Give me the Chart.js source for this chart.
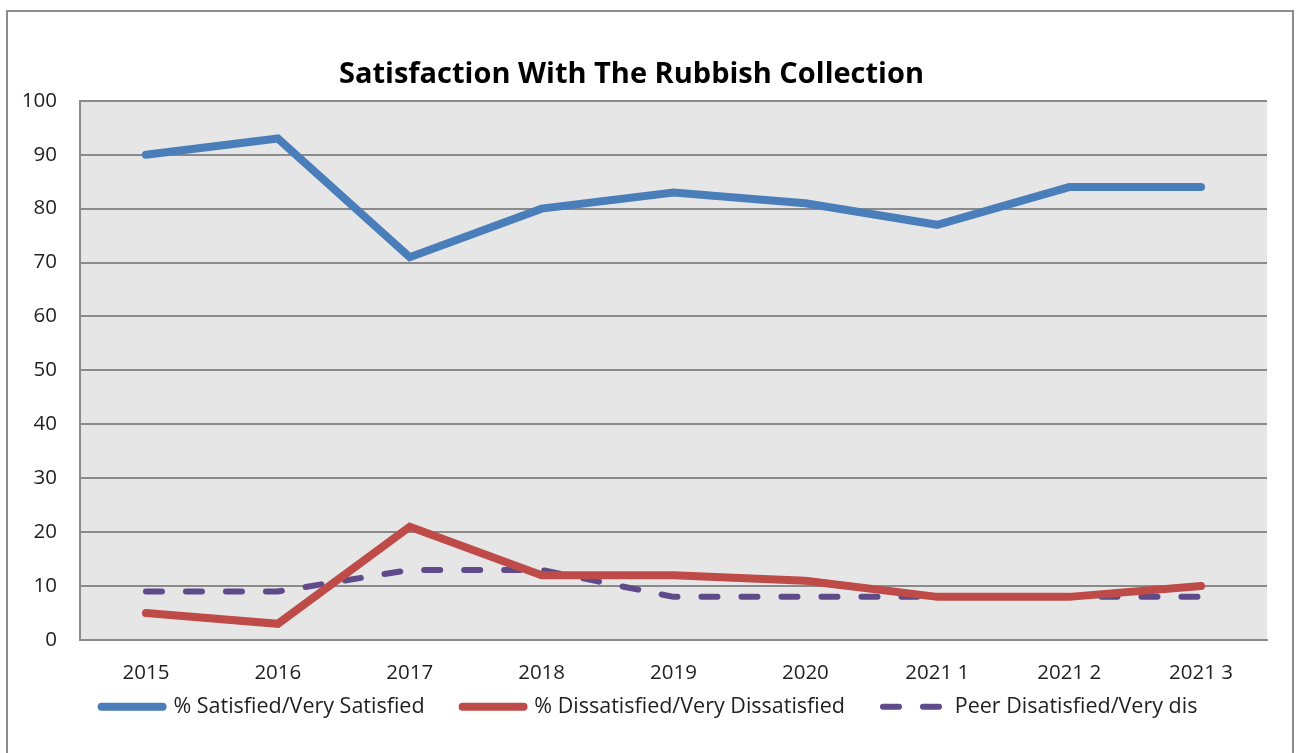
<!DOCTYPE html>
<html>
<head>
<meta charset="utf-8">
<script src="https://cdn.jsdelivr.net/npm/chart.js@4/dist/chart.umd.min.js"></script>
<style>
  html, body { margin: 0; padding: 0; background: #ffffff; }
  #frame { position: absolute; left: 6px; top: 10px; width: 1288px; height: 760px; border: 2px solid #8c8c8c; box-sizing: border-box; }
  #wrap { position: absolute; left: 0; top: 0; width: 1301px; height: 753px; }
</style>
</head>
<body>
<div id="frame"></div>
<div id="wrap"><canvas id="c" width="1301" height="753"></canvas></div>
<script>
const categories = ["2015", "2016", "2017", "2018", "2019", "2020", "2021 1", "2021 2", "2021 3"];
const satisfied = [90, 93, 71, 80, 83, 81, 77, 84, 84];
const dissatisfied = [5, 3, 21, 12, 12, 11, 8, 8, 10];
const peerDissatisfied = [9, 9, 13, 13, 8, 8, 8, 8, 8];
const yTicks = [0, 10, 20, 30, 40, 50, 60, 70, 80, 90, 100];

const FONT = "'Open Sans', 'DejaVu Sans', sans-serif";
const GRID = '#8a8a8a';
const TEXT = '#1f1f1f';
const LEGEND_PAD = 38;
const LEGEND_H = 40;

const plotBg = {
  id: 'plotBg',
  beforeDraw(chart) {
    const {ctx, chartArea: a} = chart;
    ctx.save();
    ctx.fillStyle = '#e6e6e6';
    ctx.fillRect(a.left, a.top, a.right - a.left, a.bottom - a.top);
    ctx.restore();
  }
};

// compact legend vertically while keeping wide horizontal spacing; nudge title/legend
const layoutTweaks = {
  id: 'layoutTweaks',
  beforeLayout(chart) {
    const lg = chart.legend;
    if (lg && !lg._compactPatched) {
      const orig = lg.fit;
      lg.fit = function () { orig.call(this); this.height = LEGEND_H; };
      lg._compactPatched = true;
    }
  },
  afterLayout(chart) {
    const lg = chart.legend;
    if (lg) {
      lg.top -= LEGEND_PAD - 10;
      lg.left += 6; lg.right += 6;
    }
    const t = chart.titleBlock;
    if (t) { t.left -= 12; t.right -= 12; }
  }
};

new Chart(document.getElementById('c'), {
  type: 'line',
  data: {
    labels: categories,
    datasets: [
      { label: '% Satisfied/Very Satisfied', data: satisfied, borderColor: '#4a7ebb', backgroundColor: '#4a7ebb', borderWidth: 8, borderCapStyle: 'round', borderJoinStyle: 'miter', pointRadius: 0, tension: 0 },
      { label: '% Dissatisfied/Very Dissatisfied', data: dissatisfied, borderColor: '#be4b48', backgroundColor: '#be4b48', borderWidth: 8, borderCapStyle: 'round', borderJoinStyle: 'miter', pointRadius: 0, tension: 0 },
      { label: 'Peer Disatisfied/Very dis', data: peerDissatisfied, borderColor: '#5f4a8a', backgroundColor: '#5f4a8a', borderWidth: 6, borderDash: [16, 24], borderCapStyle: 'round', borderJoinStyle: 'round', pointRadius: 0, tension: 0 }
    ]
  },
  options: {
    responsive: false,
    animation: false,
    events: [],
    layout: { padding: { left: 20, right: 34, top: 0, bottom: 27 } },
    plugins: {
      title: {
        display: true,
        text: 'Satisfaction With The Rubbish Collection',
        color: '#000',
        font: { family: FONT, size: 29, weight: 'bold', lineHeight: 1.2 },
        padding: { top: 57, bottom: 9 }
      },
      legend: {
        position: 'bottom',
        labels: {
          usePointStyle: true,
          pointStyle: 'line',
          pointStyleWidth: 61,
          padding: LEGEND_PAD,
          color: TEXT,
          font: { family: FONT, size: 21.5 },
          generateLabels(chart) {
            return chart.data.datasets.map((ds, i) => ({
              text: ds.label,
              fillStyle: ds.borderColor,
              strokeStyle: ds.borderColor,
              lineWidth: ds.borderWidth,
              lineDash: ds.borderDash || [],
              lineCap: 'round',
              pointStyle: 'line',
              fontColor: TEXT,
              datasetIndex: i,
              hidden: false
            }));
          }
        }
      },
      tooltip: { enabled: false }
    },
    scales: {
      x: {
        offset: true,
        grid: { display: false, drawTicks: false },
        border: { display: true, color: GRID, width: 2 },
        ticks: { color: TEXT, padding: 21, maxRotation: 0, autoSkip: false, font: { family: FONT, size: 20.5, lineHeight: 1.2 } },
        afterFit(s) { s.height = 46; }
      },
      y: {
        min: 0, max: 100,
        afterBuildTicks(s) { s.ticks = yTicks.map(v => ({ value: v })); },
        grid: { color: GRID, lineWidth: 2, drawTicks: false },
        border: { display: true, color: GRID, width: 2 },
        ticks: { color: TEXT, padding: 23, font: { family: FONT, size: 20.5 } },
        afterFit(s) { s.width = 60; }
      }
    }
  },
  plugins: [plotBg, layoutTweaks]
});
</script>
</body>
</html>
